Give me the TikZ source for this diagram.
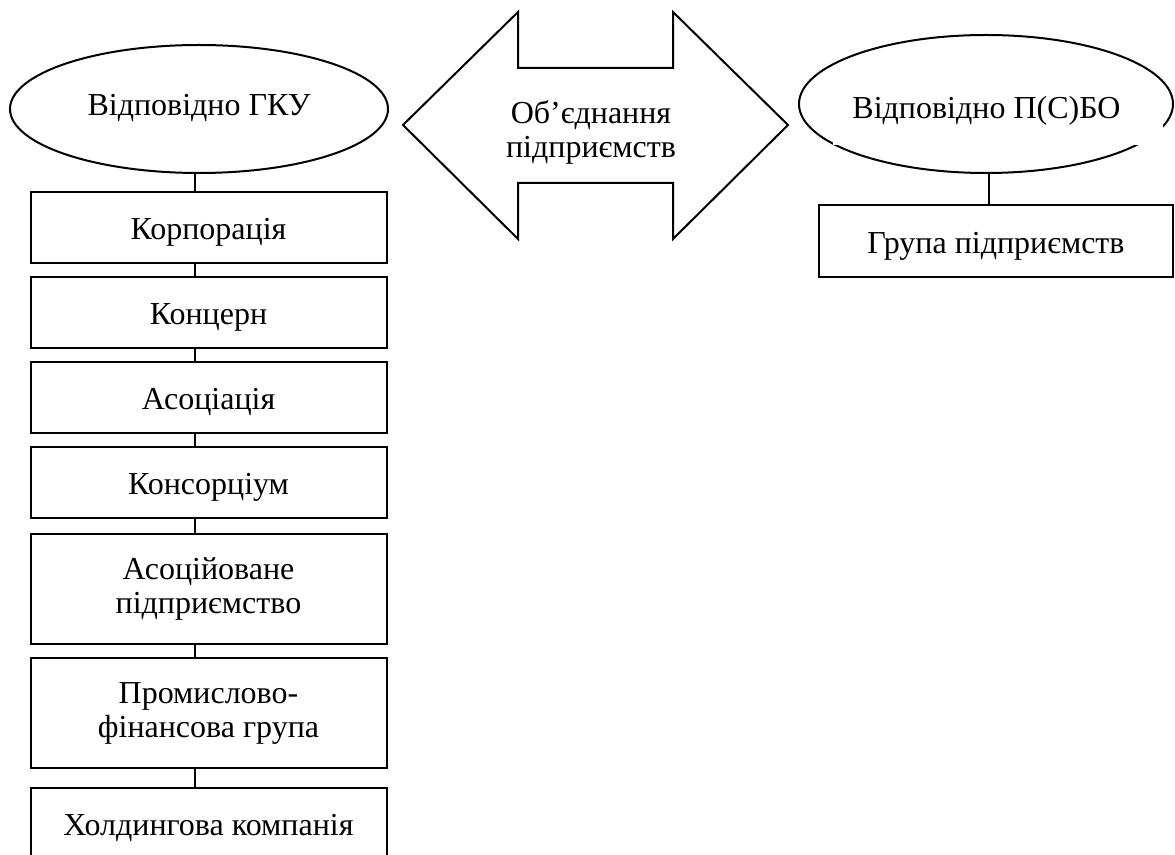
\documentclass[tikz,border=0pt]{standalone}
\usepackage{fontspec}
\setmainfont{Liberation Serif}
\usetikzlibrary{positioning,shapes.geometric}
\tikzset{
    oval/.style={ellipse,draw,line width=1pt,inner sep=0pt},
    block/.style={rectangle,draw,line width=1pt,minimum width=178pt,minimum height=35.5pt,
        text height=12.5pt,text depth=0pt},
    tall/.style={rectangle,draw,line width=1pt,minimum width=178pt,minimum height=55pt,align=center},
    link/.style={line width=1pt},
    every node/.style={font=\fontsize{16}{17}\selectfont}
}

\begin{document}
\begin{tikzpicture}[x=0.5pt,y=-0.5pt,node distance=6pt]
    \useasboundingbox (0,0) rectangle (1175,855);
    \clip (0,0) rectangle (1175,855);

    % left column
    \node[oval,minimum width=189pt,minimum height=64pt,text height=7pt,text depth=0pt] (gku) at (199,109) {Відповідно ГКУ};
    \node[block] (item 1) at (208.5,227.5)            {Корпорація};
    \node[block] (item 2) [below=of item 1]           {Концерн};
    \node[block] (item 3) [below=of item 2]           {Асоціація};
    \node[block] (item 4) [below=of item 3]           {Консорціум};
    \node[tall]  (item 5) [below=7pt of item 4]       {Асоційоване\\підприємство};
    \node[tall]  (item 6) [below=of item 5]           {Промислово-\\фінансова група};
    \node[block] (item 7) [below=9pt of item 6]       {Холдингова компанія};

    \draw[link] ([xshift=-7pt]item 1.north) -- ([xshift=-7pt]item 1.north |- gku.south);
    \foreach \i [count=\j from 2] in {1,...,6}
        \draw[link] ([xshift=-7pt]item \i.south) -- ([xshift=-7pt]item \j.north);

    % double arrow
    \draw[link] (403,125) -- (518,12) -- (518,68) -- (673,68) -- (673,12) -- (788,125)
        -- (673,239) -- (673,183) -- (518,183) -- (518,239) -- cycle;
    \node[align=center] (union) at (591,132) {Об’єднання\\підприємств};

    % right column
    \node[oval,minimum width=187pt,minimum height=69pt] (psbo) at (986,104) {};
    \fill[white] (833,88) rectangle (1163,145);
    \node[anchor=base] (psbo text) at (986.5,119) {Відповідно П(С)БО};
    \node[block,minimum width=177pt,minimum height=36pt] (group) at (996,241) {Група підприємств};
    \draw[link] ([xshift=-3.5pt]group.north) -- ([xshift=-3.5pt]group.north |- psbo.south);
\end{tikzpicture}
\end{document}
